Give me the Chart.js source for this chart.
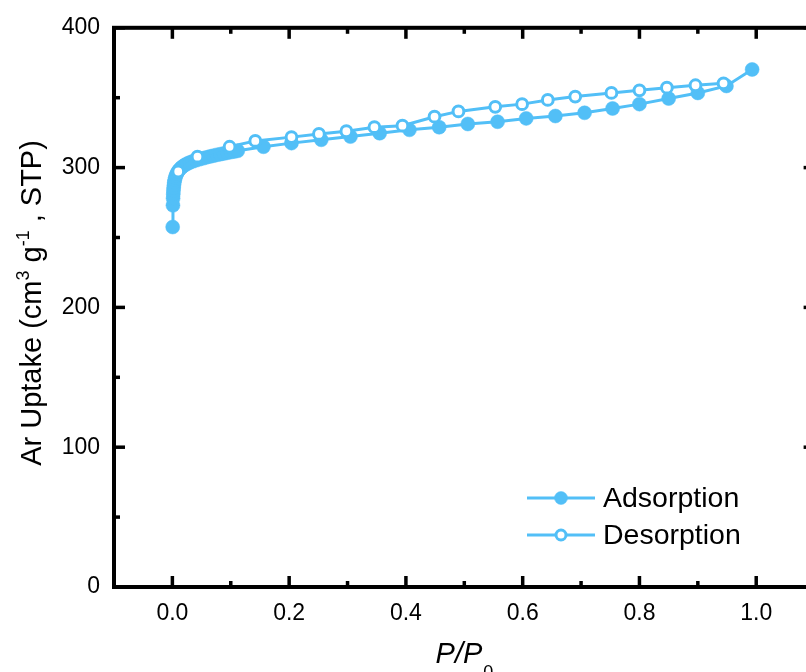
<!DOCTYPE html>
<html>
<head>
<meta charset="utf-8">
<script src="https://cdn.jsdelivr.net/npm/chart.js@4.4.1/dist/chart.umd.min.js"></script>
<style>
  html, body { margin: 0; padding: 0; background: #fff; overflow: hidden; }
  #wrap { width: 823px; height: 672px; }
</style>
</head>
<body>
<div id="wrap"><canvas id="myChart" width="823" height="672"></canvas></div>
<script>
// Ar isotherm
const adsP = [
  0.0005, 0.0010, 0.0012, 0.0015, 0.0018, 0.0022, 0.0027, 0.0033, 0.0040, 0.0050,
  0.0062, 0.0076, 0.0093, 0.0113, 0.0136, 0.0162, 0.019, 0.022, 0.026, 0.030,
  0.035, 0.040, 0.046, 0.052, 0.058, 0.064, 0.070, 0.076, 0.082, 0.088,
  0.094, 0.100, 0.106, 0.112, 0.156, 0.204, 0.255, 0.305, 0.355, 0.406,
  0.457, 0.506, 0.557, 0.606, 0.656, 0.706, 0.754, 0.800, 0.850, 0.900,
  0.949, 0.993
];
const adsV = [
  257.5, 273.0, 278.0, 281.0, 283.5, 285.5, 287.5, 289.5, 291.2, 292.8,
  294.3, 295.7, 297.0, 298.2, 299.3, 300.3, 301.2, 302.0, 302.9, 303.7,
  304.5, 305.2, 305.9, 306.6, 307.3, 307.9, 308.5, 309.1, 309.6, 310.1,
  310.6, 311.1, 311.5, 312.0, 314.9, 317.5, 319.9, 322.2, 324.6, 327.0,
  328.9, 331.2, 332.8, 335.2, 336.9, 339.2, 342.3, 345.4, 349.4, 353.4,
  358.4, 370.2
];
const desP = [
  0.944, 0.896, 0.847, 0.800, 0.752, 0.690, 0.643, 0.599, 0.553, 0.490,
  0.449, 0.394, 0.346, 0.298, 0.251, 0.204, 0.142, 0.098, 0.043, 0.010
];
const desV = [
  360.3, 358.9, 357.2, 355.3, 353.4, 350.8, 348.4, 345.4, 343.5, 340.2,
  336.4, 330.0, 328.9, 326.0, 324.1, 321.8, 319.1, 314.9, 307.8, 297.2
];
const xTicks = [0.0, 0.2, 0.4, 0.6, 0.8, 1.0];
const xMinor = [0.1, 0.3, 0.5, 0.7, 0.9, 1.1];
const yTicks = [0, 100, 200, 300, 400];
const yMinor = [50, 150, 250, 350];

const BLUE = "#52bff7";
const FONT = "'Liberation Sans', Arial, sans-serif";

const toPoints = (xs, ys) => xs.map((x, i) => ({ x: x, y: ys[i] }));

// frame, inward ticks, axis titles and legend
const decor = {
  id: "decor",
  afterDraw(chart) {
    const ctx = chart.ctx;
    const a = chart.chartArea;
    const xs = chart.scales.x;
    const ys = chart.scales.y;
    ctx.save();
    ctx.strokeStyle = "#000";
    ctx.lineWidth = 3.5;
    ctx.lineCap = "butt";

    const tick = (x1, y1, x2, y2) => {
      ctx.beginPath();
      ctx.moveTo(x1, y1);
      ctx.lineTo(x2, y2);
      ctx.stroke();
    };
    xTicks.forEach((v) => {
      const px = xs.getPixelForValue(v);
      tick(px, a.bottom, px, a.bottom - 11);
      tick(px, a.top, px, a.top + 11);
    });
    xMinor.forEach((v) => {
      const px = xs.getPixelForValue(v);
      tick(px, a.bottom, px, a.bottom - 6);
      tick(px, a.top, px, a.top + 6);
    });
    yTicks.forEach((v) => {
      const py = ys.getPixelForValue(v);
      tick(a.left, py, a.left + 11, py);
      tick(a.right, py, a.right - 11, py);
    });
    yMinor.forEach((v) => {
      const py = ys.getPixelForValue(v);
      tick(a.left, py, a.left + 6, py);
      tick(a.right, py, a.right - 6, py);
    });
    ctx.lineWidth = 4;
    ctx.lineJoin = "miter";
    ctx.strokeRect(a.left, a.top, a.right - a.left, a.bottom - a.top);

    // x title
    ctx.fillStyle = "#000";
    ctx.textBaseline = "alphabetic";
    ctx.textAlign = "left";
    ctx.font = "italic 29px " + FONT;
    const t1 = "P/P";
    const w1 = ctx.measureText(t1).width;
    ctx.font = "18px " + FONT;
    const w2 = ctx.measureText("0").width;
    let sx = 464 - (w1 + w2) / 2;
    ctx.font = "italic 29px " + FONT;
    ctx.fillText(t1, sx, 663);
    ctx.font = "18px " + FONT;
    ctx.fillText("0", sx + w1 + 1, 678);

    // y title, rotated
    ctx.save();
    ctx.translate(41, 303);
    ctx.rotate(-Math.PI / 2);
    const parts = [
      ["Ar Uptake (cm", 29, 0],
      ["3", 18, -12],
      [" g", 29, 0],
      ["-1", 18, -12],
      [" , STP)", 29, 0],
    ];
    let total = 0;
    parts.forEach((p) => {
      ctx.font = p[1] + "px " + FONT;
      total += ctx.measureText(p[0]).width;
    });
    let cx = -total / 2;
    parts.forEach((p) => {
      ctx.font = p[1] + "px " + FONT;
      ctx.fillText(p[0], cx, p[2]);
      cx += ctx.measureText(p[0]).width;
    });
    ctx.restore();

    // legend
    ctx.textBaseline = "middle";
    ctx.font = "28.5px " + FONT;
    chart.data.datasets.forEach((ds, i) => {
      const ly = 498 + i * 37;
      ctx.strokeStyle = ds.borderColor;
      ctx.lineWidth = 3;
      tick(527, ly, 595, ly);
      ctx.beginPath();
      ctx.arc(561, ly, i === 0 ? 6.5 : 5, 0, Math.PI * 2);
      ctx.fillStyle = ds.pointBackgroundColor;
      ctx.fill();
      ctx.lineWidth = ds.pointBorderWidth;
      ctx.strokeStyle = ds.pointBorderColor;
      ctx.stroke();
      ctx.fillStyle = "#000";
      ctx.fillText(ds.label, 603, ly + 1);
    });
    ctx.restore();
  },
};

new Chart("myChart", {
  type: "scatter",
  data: {
    datasets: [
      {
        label: "Adsorption",
        data: toPoints(adsP, adsV),
        showLine: true,
        borderColor: BLUE,
        borderWidth: 3,
        pointRadius: 7,
        pointBackgroundColor: BLUE,
        pointBorderColor: BLUE,
        pointBorderWidth: 0.5,
        order: 1,
      },
      {
        label: "Desorption",
        data: toPoints(desP, desV),
        showLine: true,
        borderColor: BLUE,
        borderWidth: 3,
        pointRadius: 5.4,
        pointBackgroundColor: "#fff",
        pointBorderColor: BLUE,
        pointBorderWidth: 3,
        order: 0,
      },
    ],
  },
  options: {
    responsive: false,
    animation: false,
    devicePixelRatio: 1,
    layout: { padding: { top: 23, right: 6, left: 0, bottom: 0 } },
    plugins: {
      legend: { display: false },
      tooltip: { enabled: false },
    },
    scales: {
      x: {
        type: "linear",
        min: -0.1,
        max: 1.1,
        grid: { display: false, drawTicks: false },
        border: { display: false },
        afterBuildTicks: (scale) => {
          scale.ticks = xTicks.map((v) => ({ value: v }));
        },
        afterFit: (scale) => {
          scale.height = 85;
        },
        ticks: {
          color: "#000",
          padding: 13,
          maxRotation: 0,
          font: { family: FONT, size: 23 },
          callback: (v) => Number(v).toFixed(1),
        },
      },
      y: {
        type: "linear",
        min: 0,
        max: 400,
        grid: { display: false, drawTicks: false },
        border: { display: false },
        afterBuildTicks: (scale) => {
          scale.ticks = yTicks.map((v) => ({ value: v }));
        },
        afterFit: (scale) => {
          scale.width = 114;
        },
        ticks: {
          color: "#000",
          padding: 14,
          font: { family: FONT, size: 23 },
        },
      },
    },
  },
  plugins: [decor],
});
</script>
</body>
</html>
